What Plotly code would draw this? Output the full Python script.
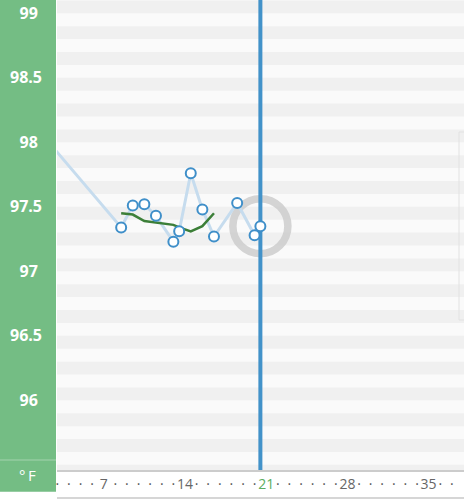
import plotly.graph_objects as go
import numpy as np

# ---- data ----
x_days = [1.5, 8.5, 9.5, 10.5, 11.5, 13.0, 13.5, 14.5, 15.5, 16.5, 18.5, 20.0, 20.5]
temps = [98.08, 97.34, 97.51, 97.52, 97.43, 97.23, 97.31, 97.76, 97.48, 97.27, 97.53, 97.28, 97.35]
avg_days = [8.5, 9.5, 10.5, 11.5, 13.0, 13.5, 14.5, 15.5, 16.5]
avg_temps = [97.45, 97.44, 97.39, 97.38, 97.36, 97.34, 97.31, 97.35, 97.45]
today = 20.5
today_label = 21
x_tick_days = list(range(3, 39))
y_tick_vals = [96, 96.5, 97, 97.5, 98, 98.5, 99]
y_range = [95.46, 99.103]
x_range = [2.97, 38.05]
unit_label = "°\u2009F"

W, H = 464, 500
ML, MB = 57, 30
PW, PH = W - ML, H - MB

GREEN = "#74bd84"


def xtext(d):
    if d == today_label:
        return '<span style="color:#5aad5f">%d</span>' % d
    if d % 7 == 0:
        return str(d)
    return '<span style="color:#555555">·</span>'


def ytext(v):
    s = ("%g" % v)
    if "." not in s:
        s = s + "\u00a0"
    return "<b>" + s + "</b>"


fig = go.Figure()

# ring around today's reading
fig.add_trace(go.Scatter(
    x=[x_days[-1]], y=[temps[-1]], mode="markers",
    marker=dict(symbol="circle-open", size=55, color="rgba(205,205,205,0.85)",
                line=dict(width=7.5)),
    hoverinfo="skip", showlegend=False))

# today line
fig.add_trace(go.Scatter(
    x=[today, today], y=y_range, mode="lines",
    line=dict(color="#4292c9", width=4), hoverinfo="skip", showlegend=False))

# temperature line
fig.add_trace(go.Scatter(
    x=x_days, y=temps, mode="lines",
    line=dict(color="#c6dcee", width=3), hoverinfo="skip", showlegend=False))

# moving average
fig.add_trace(go.Scatter(
    x=avg_days, y=avg_temps, mode="lines",
    line=dict(color="#3c7f38", width=2.5), hoverinfo="skip", showlegend=False))

# points
fig.add_trace(go.Scatter(
    x=x_days, y=temps, mode="markers",
    marker=dict(symbol="circle", size=10, color="white",
                line=dict(color="#3f8fc9", width=2)),
    showlegend=False))

shapes = []
# green panel
shapes.append(dict(type="rect", xref="paper", yref="paper",
                   x0=-ML / PW, x1=-1 / PW, y0=-21.7 / PH, y1=1.02,
                   fillcolor=GREEN, line=dict(width=0), layer="below"))
shapes.append(dict(type="line", xref="paper", yref="paper",
                   x0=-ML / PW, x1=-1 / PW, y0=10 / PH, y1=10 / PH,
                   line=dict(color="rgba(255,255,255,0.35)", width=1), layer="below"))
# stripes
lo = np.floor(y_range[0] * 10) / 10
for k in range(int(round((y_range[1] - lo) * 10)) + 1):
    b = round(lo + k / 10, 1)
    if int(round(b * 10)) % 2 == 0:
        shapes.append(dict(type="rect", xref="paper", yref="y", x0=0, x1=1,
                           y0=b, y1=b + 0.1, fillcolor="#f0f0f0",
                           line=dict(width=0), layer="below"))
# faint card edge on the right
shapes.append(dict(type="rect", xref="paper", yref="paper",
                   x0=(459 - ML) / PW, x1=1.05, y0=(PH - 320) / PH, y1=(PH - 132) / PH,
                   line=dict(color="#e2e2e2", width=1), fillcolor="rgba(0,0,0,0)",
                   layer="below"))
# bottom line
shapes.append(dict(type="line", xref="paper", yref="paper",
                   x0=0, x1=1, y0=-28 / PH, y1=-28 / PH,
                   line=dict(color="#c8c8c8", width=1.5)))

fig.update_layout(
    width=W, height=H,
    margin=dict(l=ML, r=0, t=0, b=MB, pad=0),
    paper_bgcolor="white", plot_bgcolor="#fafafa",
    shapes=shapes,
    annotations=[dict(text=unit_label, xref="paper", yref="paper",
                      x=-29 / PW, y=-5 / PH, xanchor="center", yanchor="middle",
                      showarrow=False,
                      font=dict(family="Open Sans", size=15, color="white"))],
    xaxis=dict(range=x_range, showgrid=False, zeroline=False,
               tickmode="array", tickvals=x_tick_days,
               ticktext=[xtext(d) for d in x_tick_days],
               tickangle=0,
               tickfont=dict(family="Open Sans", size=14, color="#666666"),
               showline=True, linecolor="#cccccc", linewidth=1.5,
               ticks="", ticklabelstandoff=0, fixedrange=True),
    yaxis=dict(range=y_range, showgrid=False, zeroline=False,
               tickmode="array", tickvals=y_tick_vals,
               ticktext=[ytext(v) for v in y_tick_vals],
               tickfont=dict(family="Open Sans", size=16, color="white"),
               ticks="", ticklabelstandoff=14, fixedrange=True),
    hovermode=False,
)

fig.write_html("out.html", config={"displayModeBar": False})
